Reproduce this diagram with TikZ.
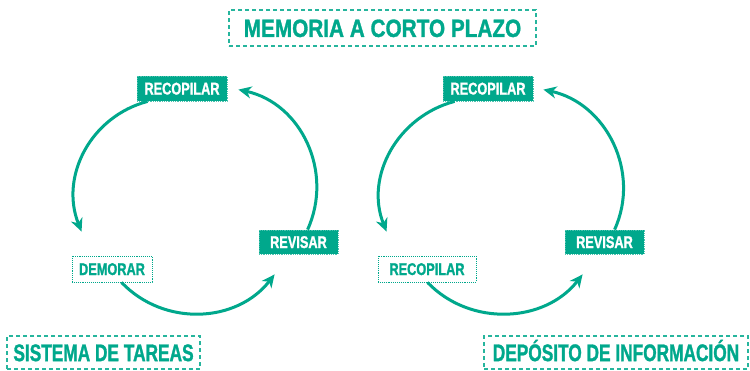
\documentclass[tikz,border=0pt]{standalone}
\usepackage{fontspec}
\usetikzlibrary{arrows.meta}
\newfontfamily\fA{Liberation Sans}[FakeStretch=0.75, BoldFeatures={FakeBold=1.2}]
\newfontfamily\fB{Liberation Sans}[FakeStretch=0.83, BoldFeatures={FakeBold=1.2}]
\newfontfamily\fC{Liberation Sans}[FakeStretch=0.72, BoldFeatures={FakeBold=1.2}]
\definecolor{tl}{HTML}{00A88C}
\tikzset{
  fillbox/.style={fill=tl, draw=tl!70!white, densely dotted, line width=0.8pt, text=white,
    font=\fA\bfseries\fontsize{17}{18}\selectfont, inner sep=0pt, text height=12pt, text depth=0pt},
  dotbox/.style={fill=white, draw=tl, densely dotted, line width=0.9pt, text=tl,
    font=\fA\bfseries\fontsize{17}{18}\selectfont, inner sep=0pt, text height=12pt, text depth=0pt},
  dashbox/.style={draw=tl!85!white, dash pattern=on 4pt off 3pt, line width=1.5pt, text=tl, inner sep=0pt},
  cyc/.style={draw=tl, line width=3pt, -{Stealth[length=13pt,width=12pt,inset=4pt]}}
}
\begin{document}
\begin{tikzpicture}[x=1pt,y=-1pt]
\fill[white] (0,0) rectangle (750,370);
\useasboundingbox (0,0) rectangle (750,370);

% title and labels
\node[dashbox, minimum width=307pt, minimum height=36pt, font=\fB\bfseries\fontsize{25}{26}\selectfont, text height=17.9pt, text depth=0pt] (title) at (382.5,28) {MEMORIA A CORTO PLAZO};
\node[dashbox, minimum width=193pt, minimum height=33pt, font=\fC\bfseries\fontsize{24}{25}\selectfont, text height=17.2pt, text depth=0pt] (lab1) at (103.5,352.5) {SISTEMA DE TAREAS};
\node[dashbox, minimum width=264pt, minimum height=33pt, font=\fC\bfseries\fontsize{24}{25}\selectfont, text height=17.2pt, text depth=0pt] (lab2) at (616,352.5) {DEPÓSITO DE INFORMACIÓN};

% left cycle
\node[fillbox, minimum width=90pt, minimum height=25pt] (rec1) at (182,88.5) {RECOPILAR};
\node[fillbox, minimum width=79pt, minimum height=24pt] (rev1) at (298.5,242) {REVISAR};
\node[dotbox, minimum width=80pt, minimum height=26pt] (dem1) at (112,269) {DEMORAR};

\draw[cyc] ([xshift=11pt]rec1.south west) .. controls +(-57,15) and +(-22,-55) .. ([xshift=10pt,yshift=24pt]dem1.north west);
\draw[cyc] ([xshift=50pt]dem1.south west) .. controls +(42.6,44.5) and +(-37.8,48.7) .. ([xshift=16pt,yshift=-20pt]rev1.south west);
\draw[cyc] ([xshift=49pt]rev1.north west) .. controls +(26.4,-58.2) and +(62.4,13.6) .. ([xshift=11pt,yshift=-14pt]rec1.north east);

% right cycle
\node[fillbox, minimum width=90pt, minimum height=25pt] (rec2) at (488,88.5) {RECOPILAR};
\node[fillbox, minimum width=79pt, minimum height=24pt] (rev2) at (604.5,242) {REVISAR};
\node[dotbox, minimum width=98pt, minimum height=26pt] (dem2) at (427,269) {RECOPILAR};

\draw[cyc] ([xshift=12pt]rec2.south west) .. controls +(-57,15) and +(-22,-55) .. ([xshift=9pt,yshift=24pt]dem2.north west);
\draw[cyc] ([xshift=50pt]dem2.south west) .. controls +(42.6,44.5) and +(-37.8,48.7) .. ([xshift=18pt,yshift=-20pt]rev2.south west);
\draw[cyc] ([xshift=50pt]rev2.north west) .. controls +(26.4,-58.2) and +(62.4,13.6) .. ([xshift=10pt,yshift=-14pt]rec2.north east);
\end{tikzpicture}
\end{document}
